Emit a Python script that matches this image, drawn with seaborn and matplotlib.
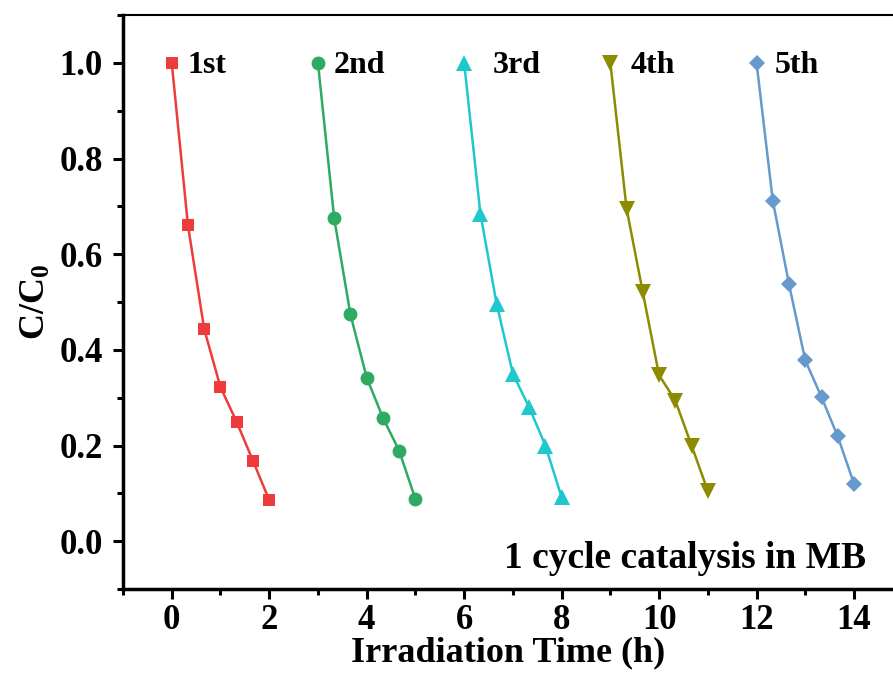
import numpy as np
import pandas as pd
import matplotlib
matplotlib.use("Agg")
import matplotlib.pyplot as plt
import seaborn as sns
from matplotlib.ticker import MultipleLocator

# ---- data ----
cycles = ["1st", "2nd", "3rd", "4th", "5th"]
t1 = [0, 1/3, 2/3, 1, 4/3, 5/3, 2]
t2 = [3, 10/3, 11/3, 4, 13/3, 14/3, 5]
t3 = [6, 19/3, 20/3, 7, 22/3, 23/3, 8]
t4 = [9, 28/3, 29/3, 10, 31/3, 32/3, 11]
t5 = [12, 37/3, 38/3, 13, 40/3, 41/3, 14]
c1 = [1.0, 0.660, 0.443, 0.322, 0.249, 0.168, 0.086]
c2 = [1.0, 0.675, 0.474, 0.342, 0.258, 0.189, 0.088]
c3 = [1.0, 0.685, 0.496, 0.350, 0.280, 0.200, 0.092]
c4 = [1.0, 0.695, 0.520, 0.347, 0.294, 0.200, 0.105]
c5 = [1.0, 0.712, 0.537, 0.378, 0.301, 0.219, 0.120]
times = [t1, t2, t3, t4, t5]
concs = [c1, c2, c3, c4, c5]
colors = ["#EE3B3B", "#2EAA62", "#1EC8CC", "#8C8C00", "#6699CC"]
markers = ["s", "o", "^", "v", "D"]
msizes = [9, 10, 11, 11, 8.5]
label_dx = [0.32, 0.32, 0.58, 0.41, 0.38]   # label placement (layout)
annotation = "1 cycle catalysis in MB"
xlabel = "Irradiation Time (h)"
ylabel = "C/C$_0$"

rows = []
for name, tt, cc in zip(cycles, times, concs):
    for a, b in zip(tt, cc):
        rows.append({"cycle": name, "t": a, "c": b})
df = pd.DataFrame(rows)

sns.set_style("ticks")
plt.rcParams["font.family"] = ["Liberation Serif", "DejaVu Serif"]
plt.rcParams["font.weight"] = "bold"
plt.rcParams["text.color"] = "black"
plt.rcParams["axes.labelcolor"] = "black"
plt.rcParams["xtick.color"] = "black"
plt.rcParams["ytick.color"] = "black"
plt.rcParams["axes.edgecolor"] = "black"
plt.rcParams["mathtext.fontset"] = "custom"
plt.rcParams["mathtext.rm"] = "Liberation Serif:bold"
plt.rcParams["mathtext.it"] = "Liberation Serif:bold"
plt.rcParams["mathtext.bf"] = "Liberation Serif:bold"

fig = plt.figure(figsize=(8.93, 6.8), dpi=100)
ax = fig.add_axes([123/893, 91/680, 770/893, 574/680])

for i, name in enumerate(cycles):
    sub = df[df["cycle"] == name]
    sns.lineplot(data=sub, x="t", y="c", ax=ax, color=colors[i], marker=markers[i],
                 markersize=msizes[i], markeredgewidth=0, linewidth=1.8,
                 sort=False, legend=False)
    ax.text(times[i][0] + label_dx[i], concs[i][0] - 0.005, name, ha="left", va="center",
            fontsize=23, fontweight="bold", color="black")

ax.set_xlim(-1, 14.8)
ax.set_ylim(-0.1, 1.1)
ax.xaxis.set_minor_locator(MultipleLocator(1))
ax.yaxis.set_minor_locator(MultipleLocator(0.1))
ax.set_xticks(np.arange(0, 15, 2))
ax.set_yticks(np.arange(0, 1.01, 0.2))
ax.set_yticklabels([f"{v:.1f}" for v in np.arange(0, 1.01, 0.2)])

ax.tick_params(axis="both", which="major", length=7.5, width=2.2, labelsize=25,
               direction="out", colors="black")
ax.tick_params(axis="y", which="major", pad=7)
ax.tick_params(axis="x", which="major", pad=3)
ax.tick_params(axis="both", which="minor", length=4.5, width=2.2, direction="out",
               colors="black")
for lab in ax.get_xticklabels() + ax.get_yticklabels():
    lab.set_fontweight("bold")

for s in ["left", "bottom"]:
    ax.spines[s].set_linewidth(2.5)
ax.spines["top"].set_linewidth(1.5)
ax.spines["right"].set_visible(False)

ax.set_xlabel(xlabel, fontsize=26, fontweight="bold", labelpad=0)
ax.set_ylabel(ylabel, fontsize=26, fontweight="bold", labelpad=5)

ax.text(14.24, -0.057, annotation, ha="right", va="baseline",
        fontsize=27, fontweight="bold")

fig.savefig("out.png", dpi=100)
